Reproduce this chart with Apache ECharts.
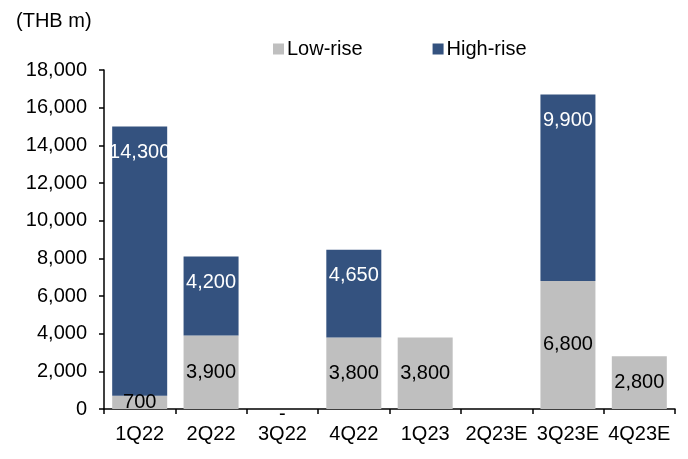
<!DOCTYPE html>
<html>
<head>
<meta charset="utf-8">
<script src="https://cdn.jsdelivr.net/npm/echarts@6/dist/echarts.min.js"></script>
<style>html,body{margin:0;padding:0;background:#fff}#c{width:688px;height:459px}</style>
</head>
<body>
<div id="c"></div>
<script>
const categories = ['1Q22','2Q22','3Q22','4Q22','1Q23','2Q23E','3Q23E','4Q23E'];
const lowRise = [700, 3900, 0, 3800, 3800, null, 6800, 2800];
const highRise = [14300, 4200, null, 4650, null, null, 9900, null];
const yTicks = [0, 2000, 4000, 6000, 8000, 10000, 12000, 14000, 16000, 18000];

const FONT = 'Liberation Sans, Arial, sans-serif';
const FS = 20;
const fmt = v => v === 0 ? '-' : v.toLocaleString('en-US');

const lowData = lowRise.map(v => v === 0 ? {value: v, label: {offset: [0, 5]}} : v);

const chart = echarts.init(document.getElementById('c'), null, {renderer: 'canvas'});
chart.setOption({
  animation: false,
  backgroundColor: '#ffffff',
  textStyle: {fontFamily: FONT},
  title: {
    text: '(THB m)', left: 11, top: 6,
    textStyle: {fontFamily: FONT, fontSize: FS, fontWeight: 'normal', color: '#000'}
  },
  legend: {
    left: 268, top: 34,
    itemWidth: 11, itemHeight: 11, itemGap: 70,
    icon: 'rect',
    textStyle: {fontFamily: FONT, fontSize: FS, color: '#000', padding: [0,0,0,-2]},
    data: ['Low-rise', 'High-rise']
  },
  grid: {left: 104, right: 13, top: 70, bottom: 50},
  xAxis: {
    type: 'category', data: categories,
    axisLine: {lineStyle: {color: '#000', width: 1.5}},
    axisTick: {show: true, length: 5, interval: 0, lineStyle: {color: '#000', width: 1.5}},
    axisLabel: {fontFamily: FONT, fontSize: FS, color: '#000', margin: 15, interval: 0}
  },
  yAxis: {
    type: 'value', min: yTicks[0], max: yTicks[yTicks.length-1], interval: 2000,
    splitLine: {show: false},
    axisLine: {show: true, lineStyle: {color: '#000', width: 1.5}},
    axisTick: {show: true, length: 5, lineStyle: {color: '#000', width: 1.5}},
    axisLabel: {fontFamily: FONT, fontSize: FS, color: '#000', margin: 17,
      formatter: v => v.toLocaleString('en-US')}
  },
  series: [
    {
      name: 'Low-rise', type: 'bar', stack: 'a', barWidth: 55,
      itemStyle: {color: '#BFBFBF'},
      label: {show: true, position: 'inside', fontFamily: FONT, fontSize: FS, color: '#000',
        formatter: p => p.value == null ? '' : fmt(p.value)},
      data: lowData
    },
    {
      name: 'High-rise', type: 'bar', stack: 'a', barWidth: 55,
      itemStyle: {color: '#34527F'},
      label: {show: true, position: 'insideTop', distance: 16, lineHeight: 20, fontFamily: FONT, fontSize: FS, color: '#fff',
        formatter: p => p.value == null ? '' : fmt(p.value)},
      data: highRise
    }
  ]
});
</script>
</body>
</html>
